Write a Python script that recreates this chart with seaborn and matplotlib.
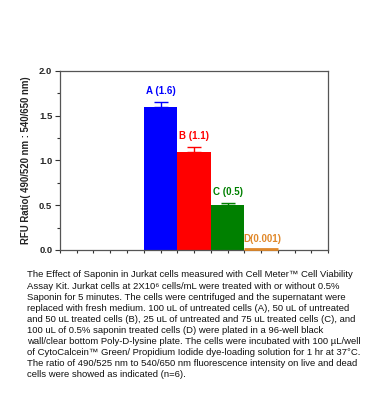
import matplotlib
matplotlib.use("Agg")
import matplotlib.pyplot as plt
import seaborn as sns
import numpy as np

# data
groups = ["A", "B", "C", "D"]
ratios = [1.6, 1.1, 0.5, 0.001]
errors = [0.05, 0.05, 0.02, 0.0]
labels = ["A (1.6)", "B (1.1)", "C (0.5)", "D(0.001)"]
colors = ["#0000FF", "#FF0000", "#008000", "#E0882A"]

caption = ("The Effect of Saponin in Jurkat cells measured with Cell Meter\u2122 Cell Viability\n"
           "Assay Kit. Jurkat cells at 2X10\u2076 cells/mL were treated with or without 0.5%\n"
           "Saponin for 5 minutes. The cells were centrifuged and the supernatant were\n"
           "replaced with fresh medium. 100 uL of untreated cells (A), 50 uL of untreated\n"
           "and 50 uL treated cells (B), 25 uL of untreated and 75 uL treated cells (C), and\n"
           "100 uL of 0.5% saponin treated cells (D) were plated in a 96-well black\n"
           "wall/clear bottom Poly-D-lysine plate. The cells were incubated with 100 \u00b5L/well\n"
           "of CytoCalcein\u2122 Green/ Propidium Iodide dye-loading solution for 1 hr at 37\u00b0C.\n"
           "The ratio of 490/525 nm to 540/650 nm fluorescence intensity on live and dead\n"
           "cells were showed as indicated (n=6).")

sns.set_style("white")
plt.rcParams['font.family'] = ['Liberation Sans', 'DejaVu Sans']

fig = plt.figure(figsize=(3.69, 4.2), dpi=100)
ax = fig.add_axes([0.1626, 0.4048, 0.7263, 0.4262])

sns.barplot(x=groups, y=ratios, hue=groups, palette=colors, width=1.0,
            saturation=1, legend=False, ax=ax, linewidth=0)

x = np.arange(len(groups))
for i in range(len(groups)):
    if errors[i] > 0:
        ax.errorbar(x[i], ratios[i], yerr=[[0], [errors[i]]], fmt="none",
                    ecolor=colors[i], elinewidth=1, capsize=5, capthick=1)
    ax.text(x[i] + (0.05 if i == 3 else 0), ratios[i] + errors[i] + 0.07, labels[i],
            ha="center", va="bottom", color=colors[i], fontsize=7, fontweight="bold")

# D bar is nearly zero, draw as thin line
ax.plot([x[3] - 0.5, x[3] + 0.5], [0.012, 0.012], color=colors[3], lw=2,
        zorder=5, clip_on=False, solid_capstyle="butt")

ax.set_xlim(-3, 5)
ax.set_ylim(0, 2.0)
ax.set_xticks(np.arange(-3, 5.01, 0.5))
ax.set_xticklabels([])
ax.set_xlabel("")
ax.set_yticks([0, 0.5, 1.0, 1.5, 2.0])
ax.set_yticklabels(["0.0", "0.5", "1.0", "1.5", "2.0"], fontsize=6.8, fontweight="bold")
ax.set_yticks(np.arange(0.25, 2.0, 0.5), minor=True)
ax.tick_params(axis="both", which="both", direction="out", length=2.5, width=0.8,
               color="#333333", bottom=True, left=True)
ax.tick_params(axis="y", which="major", length=3.5, pad=2)
ax.set_ylabel("RFU Ratio( 490/520 nm : 540/650 nm)", fontsize=6.9, fontweight="bold",
              color="#222222", labelpad=6)
for s in ax.spines.values():
    s.set_color("#555555")
    s.set_linewidth(0.9)

fig.text(0.073, 0.356, caption, ha="left", va="top", fontsize=6.8, linespacing=1.3,
         color="#111111")

fig.savefig("out.png", dpi=100)
